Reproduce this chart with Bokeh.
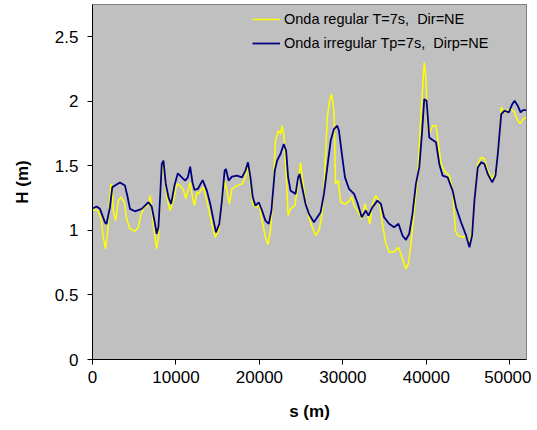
from bokeh.plotting import figure
from bokeh.models import FixedTicker, Legend, LegendItem, Range1d
from bokeh.embed import file_html
from bokeh.resources import INLINE

# Onda irregular Tp=7s, Dirp=NE
s_irr = [0, 480, 890, 1490, 1680, 2090, 2370, 2690, 3290, 3890, 4210, 4490, 5090, 5890,
         6700, 7090, 7420, 7690, 7900, 8100, 8300, 8500, 8780, 9100, 9420, 9820, 10220,
         10700, 11100, 11420, 11700, 11980, 12220, 12620, 13200, 13700, 14110, 14510,
         14790, 15190, 15510, 15830, 15990, 16310, 16710, 17310, 17910, 18320, 18630,
         18920, 19200, 19520, 19920, 20310, 20720, 21120, 21440, 21840, 22120, 22520,
         22920, 23200, 23440, 23730, 24330, 24640, 24810, 25120, 25530, 25930, 26530,
         26930, 27330, 27730, 28130, 28540, 28930, 29330, 29530, 29930, 30250, 30740,
         31340, 31730, 32260, 32740, 33060, 33540, 34140, 34550, 34940, 35540, 36140,
         36660, 37140, 37550, 37950, 38340, 38750, 39150, 39470, 39750, 40030, 40350,
         40750, 41160, 41550, 41950, 42550, 43150, 43560, 44160, 44760, 45160, 45480,
         45760, 46160, 46570, 46960, 47360, 47890, 48280, 48560, 48970, 49370, 49880,
         50290, 50570, 50960, 51290, 51570, 51970]
h_irr = [1.17, 1.185, 1.167, 1.063, 1.05, 1.18, 1.334, 1.347, 1.372, 1.347, 1.257, 1.167,
         1.148, 1.167, 1.218, 1.185, 1.076, 0.974, 1.025, 1.257, 1.515, 1.54, 1.36, 1.257,
         1.205, 1.347, 1.442, 1.411, 1.386, 1.411, 1.494, 1.372, 1.314, 1.321, 1.39,
         1.308, 1.205, 1.076, 0.985, 1.051, 1.231, 1.463, 1.476, 1.386, 1.417, 1.424,
         1.411, 1.463, 1.527, 1.411, 1.257, 1.192, 1.218, 1.154, 1.076, 1.051, 1.154,
         1.463, 1.54, 1.592, 1.669, 1.617, 1.411, 1.308, 1.283, 1.411, 1.437, 1.334,
         1.205, 1.128, 1.063, 1.102, 1.141, 1.283, 1.488, 1.695, 1.785, 1.811, 1.772,
         1.566, 1.411, 1.321, 1.283, 1.218, 1.102, 1.154, 1.115, 1.18, 1.231, 1.205,
         1.102, 1.051, 1.025, 1.051, 0.961, 0.927, 0.974, 1.128, 1.36, 1.488, 1.747,
         2.017, 2.004, 1.72, 1.70, 1.682, 1.515, 1.424, 1.411, 1.308, 1.18, 1.063, 0.961,
         0.870, 0.961, 1.231, 1.488, 1.527, 1.515, 1.437, 1.372, 1.424, 1.592, 1.901,
         1.927, 1.914, 1.978, 2.004, 1.965, 1.914, 1.932, 1.932]

# Onda regular T=7s, Dir=NE
s_reg = [0, 680, 1080, 1290, 1560, 1800, 1970, 2210, 2370, 2490, 2770, 3090, 3410, 3810,
         4090, 4490, 5090, 5490, 5820, 6210, 6610, 6900, 7090, 7380, 7690, 7900, 8100,
         8380, 8620, 8900, 9300, 9700, 10100, 10500, 10900, 11180, 11420, 11700, 11980,
         12220, 12500, 12700, 13100, 13300, 13700, 14300, 14710, 15110, 15510, 15830,
         16110, 16400, 16710, 17310, 17910, 18320, 18630, 18920, 19200, 19590, 20000,
         20310, 20720, 21030, 21320, 21600, 21920, 22240, 22520, 22720, 22920, 23200,
         23440, 23730, 24240, 24520, 24930, 25120, 25530, 25930, 26330, 26730, 27130,
         27450, 27730, 27930, 28130, 28410, 28650, 28930, 29130, 29450, 29740, 30340,
         30820, 31060, 31340, 31850, 32260, 32660, 32940, 33220, 33540, 33940, 34340,
         34740, 35150, 35540, 36140, 36660, 37070, 37550, 37860, 38150, 38550, 38950,
         39350, 39550, 39750, 39950, 40150, 40350, 40750, 41160, 41350, 41760, 42150,
         42760, 43150, 43480, 43760, 44360, 44760, 45160, 45480, 45760, 46160, 46570,
         46960, 47360, 47890, 48370, 48770, 48970, 49370, 49760, 50170, 50570, 50960,
         51250, 51570, 51970]
h_reg = [1.16, 1.154, 1.076, 0.947, 0.858, 0.974, 1.154, 1.36, 1.308, 1.154, 1.076, 1.231,
         1.257, 1.218, 1.09, 1.012, 0.994, 1.025, 1.128, 1.18, 1.192, 1.27, 1.167, 0.999,
         0.858, 0.947, 1.257, 1.515, 1.437, 1.257, 1.154, 1.231, 1.36, 1.347, 1.314,
         1.244, 1.308, 1.372, 1.257, 1.192, 1.295, 1.283, 1.321, 1.334, 1.231, 1.051,
         0.947, 0.999, 1.205, 1.386, 1.308, 1.205, 1.321, 1.347, 1.36, 1.411, 1.502,
         1.36, 1.205, 1.18, 1.192, 1.076, 0.947, 0.891, 0.999, 1.231, 1.695, 1.772,
         1.747, 1.811, 1.747, 1.437, 1.115, 1.167, 1.192, 1.308, 1.527, 1.411, 1.231,
         1.102, 1.025, 0.961, 0.999, 1.102, 1.308, 1.592, 1.875, 2.004, 2.056, 1.927,
         1.36, 1.386, 1.218, 1.205, 1.231, 1.262, 1.192, 1.141, 1.09, 1.205, 1.128,
         1.051, 1.205, 1.27, 1.231, 1.051, 0.896, 0.832, 0.832, 0.870, 0.793, 0.703,
         0.742, 0.896, 1.154, 1.411, 1.901, 2.1, 2.30, 2.184, 1.798, 1.747, 1.811, 1.811,
         1.72, 1.515, 1.463, 1.424, 1.308, 0.999, 0.961, 0.947, 0.961, 0.896, 0.999,
         1.231, 1.515, 1.566, 1.553, 1.463, 1.398, 1.463, 1.747, 1.952, 1.914, 1.932,
         1.94, 1.914, 1.85, 1.828, 1.862, 1.875]

x_ticks = [0, 10000, 20000, 30000, 40000, 50000]
y_ticks = [0, 0.5, 1, 1.5, 2, 2.5]
y_tick_labels = ["0", "0.5", "1", "1.5", "2", "2.5"]
legend_labels = ["Onda regular T=7s,  Dir=NE", "Onda irregular Tp=7s,  Dirp=NE"]

FONT = "Liberation Sans"

p = figure(width=531, height=428, output_backend="svg", toolbar_location=None,
           x_range=Range1d(0, 52000), y_range=Range1d(0, 2.75),
           min_border_left=92, min_border_right=5, min_border_top=4, min_border_bottom=69,
           background_fill_color="#C0C0C0", border_fill_color="white")

p.grid.visible = False
p.outline_line_color = "#808080"
p.outline_line_width = 1

r1 = p.line(s_reg, h_reg, line_color="#FFFF00", line_width=1.5)
r2 = p.line(s_irr, h_irr, line_color="#000080", line_width=1.8)

for ax in (p.xaxis[0], p.yaxis[0]):
    ax.axis_line_color = "black"
    ax.major_tick_line_color = "black"
    ax.major_tick_out = 5
    ax.major_tick_in = 0
    ax.minor_tick_line_color = None
    ax.major_label_text_font = FONT
    ax.major_label_text_font_size = "17px"
    ax.major_label_text_color = "black"
    ax.axis_label_text_font = FONT
    ax.axis_label_text_font_size = "17px"
    ax.axis_label_text_font_style = "bold"
    ax.axis_label_text_color = "black"

p.xaxis[0].ticker = FixedTicker(ticks=x_ticks)
p.xaxis[0].major_label_overrides = {t: str(t) for t in x_ticks}
p.xaxis[0].axis_label = "s (m)"
p.xaxis[0].major_label_standoff = 6
p.xaxis[0].axis_label_standoff = 16

p.yaxis[0].ticker = FixedTicker(ticks=y_ticks)
p.yaxis[0].major_label_overrides = {t: l for t, l in zip(y_ticks, y_tick_labels)}
p.yaxis[0].axis_label = "H (m)"
p.yaxis[0].major_label_standoff = 9
p.yaxis[0].axis_label_standoff = 20

legend = Legend(items=[LegendItem(label=legend_labels[0], renderers=[r1]),
                       LegendItem(label=legend_labels[1], renderers=[r2])],
                location=(160, 304), background_fill_alpha=0, border_line_color=None,
                padding=0, margin=0, spacing=0, glyph_width=28, glyph_height=24,
                label_height=24, label_standoff=4, label_text_font=FONT,
                label_text_font_size="14.5px", label_text_color="black")
p.add_layout(legend)

open("out.html", "w").write(file_html(p, INLINE))
